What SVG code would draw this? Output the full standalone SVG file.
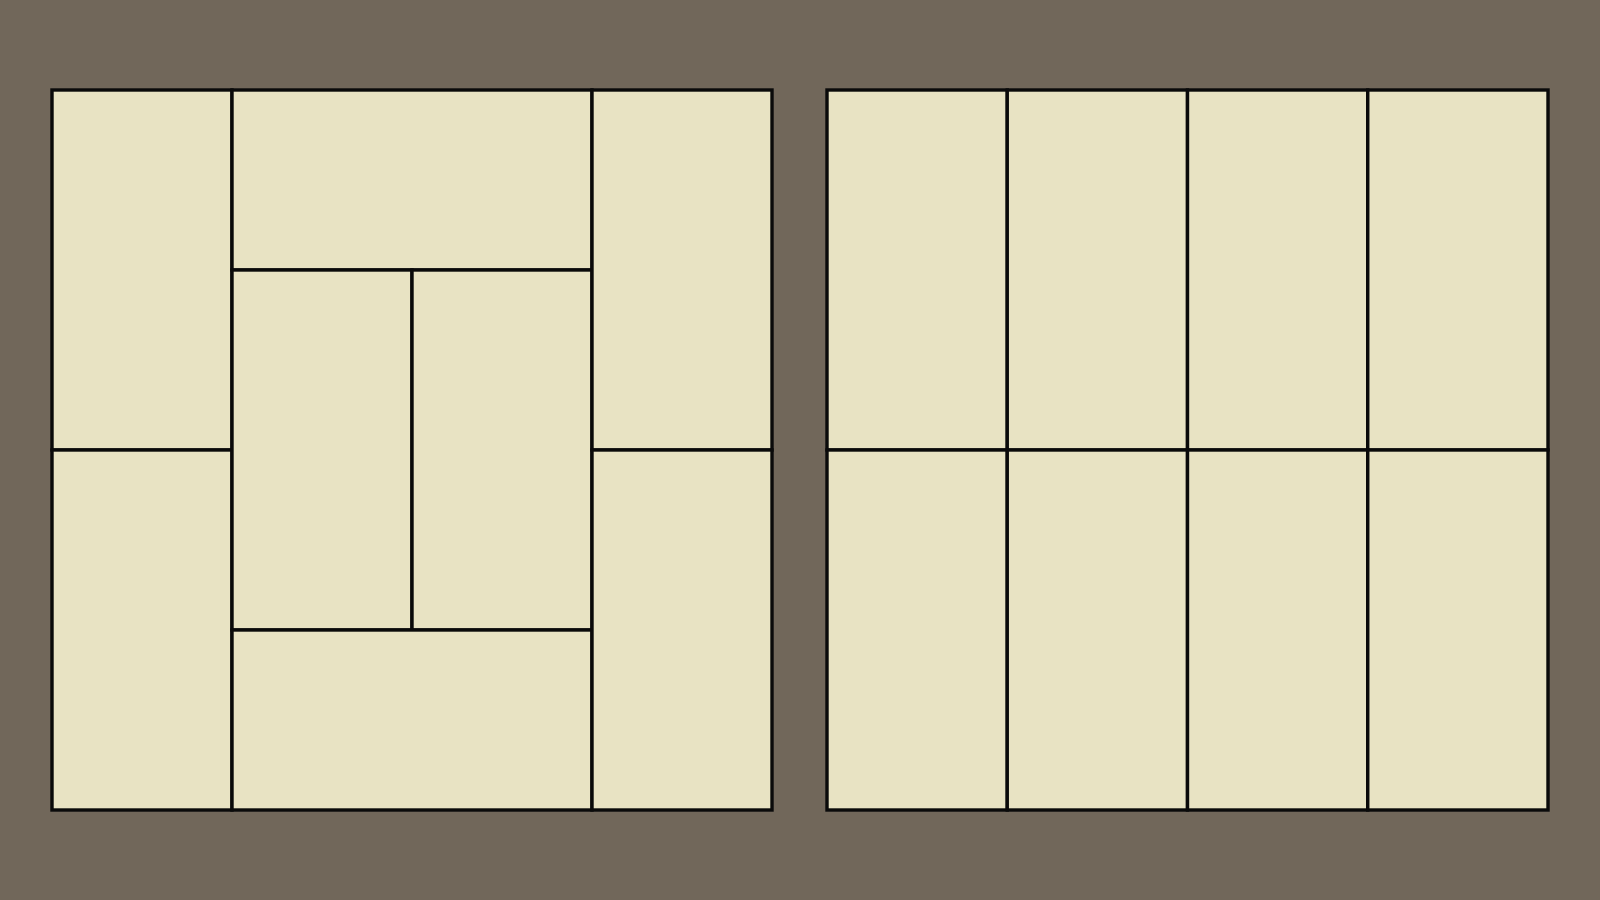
<svg xmlns="http://www.w3.org/2000/svg" width="1600" height="900" viewBox="0 0 1600 900">
<style>
.mat{fill:#e8e3c3;stroke:#0a0a0a;stroke-width:3.4}
</style>
<rect x="0" y="0" width="1600" height="900" fill="#71675a"/>
<g id="room-left">
<rect id="L1" class="mat" x="52" y="90" width="180" height="360"/>
<rect id="L2" class="mat" x="52" y="450" width="180" height="360"/>
<rect id="L3" class="mat" x="232" y="90" width="360" height="180"/>
<rect id="L4" class="mat" x="232" y="270" width="180" height="360"/>
<rect id="L5" class="mat" x="412" y="270" width="180" height="360"/>
<rect id="L6" class="mat" x="232" y="630" width="360" height="180"/>
<rect id="L7" class="mat" x="592" y="90" width="180" height="360"/>
<rect id="L8" class="mat" x="592" y="450" width="180" height="360"/>
</g>
<g id="room-right">
<rect id="R1" class="mat" x="827" y="90" width="180.25" height="360"/>
<rect id="R2" class="mat" x="1007.25" y="90" width="180.25" height="360"/>
<rect id="R3" class="mat" x="1187.5" y="90" width="180.25" height="360"/>
<rect id="R4" class="mat" x="1367.75" y="90" width="180.25" height="360"/>
<rect id="R5" class="mat" x="827" y="450" width="180.25" height="360"/>
<rect id="R6" class="mat" x="1007.25" y="450" width="180.25" height="360"/>
<rect id="R7" class="mat" x="1187.5" y="450" width="180.25" height="360"/>
<rect id="R8" class="mat" x="1367.75" y="450" width="180.25" height="360"/>
</g>
<g id="connectors"></g>
</svg>
